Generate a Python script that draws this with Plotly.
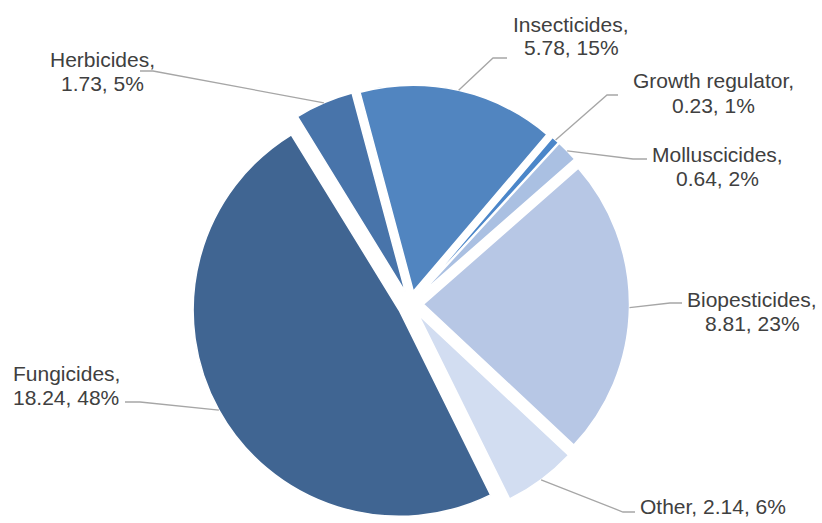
import math
import plotly.graph_objects as go

# Pesticide market segments (value, share in %)
categories = ["Insecticides", "Growth regulator", "Molluscicides",
              "Biopesticides", "Other", "Fungicides", "Herbicides"]
values = [5.78, 0.23, 0.64, 8.81, 2.14, 18.24, 1.73]
percent_labels = [15, 1, 2, 23, 6, 48, 5]
colors = ["#5185C0", "#4B86C9", "#AAC0E2", "#B7C7E5", "#D2DDF1", "#406592", "#4874AA"]

W, H = 822, 523
PULL = 0.063
ROTATION = -15          # first slice starts 15 deg left of 12 o'clock
DOMAIN_X = [0.2299, 0.7689]
DOMAIN_Y = [0.0, 0.8375]

# label layout: (text center x, first line y, elbow x, elbow y, end x) in pixels
label_layout = {
    "Insecticides":     (571, 24, 493, 58, 507),
    "Growth regulator": (713, 81, 607, 95, 618),
    "Molluscicides":    (717, 154, 633, 159, 647),
    "Biopesticides":    (752, 299, 670, 303, 682),
    "Other":            (713, 506, 623, 512, 635),
    "Fungicides":       (66, 373, 140, 402, 125),
    "Herbicides":       (102, 59, 153, 71, 140),
}
LINE_GAP = 24
TEXT_COLOR = "#404040"
LEADER_COLOR = "#A6A6A6"
FONT = "Liberation Sans, Arial, sans-serif"

fig = go.Figure(go.Pie(
    labels=categories,
    values=values,
    sort=False,
    direction="clockwise",
    rotation=ROTATION,
    pull=[PULL] * len(values),
    marker=dict(colors=colors, line=dict(color="white", width=1.5)),
    textinfo="none",
    hoverinfo="label+value+percent",
    showlegend=False,
    domain=dict(x=DOMAIN_X, y=DOMAIN_Y),
))

# pie geometry as laid out by plotly (pixels, y downward)
box_w = W * (DOMAIN_X[1] - DOMAIN_X[0])
box_h = H * (DOMAIN_Y[1] - DOMAIN_Y[0])
r = min(box_w, box_h) / 2 / (1 + PULL)
cx = W * (DOMAIN_X[0] + DOMAIN_X[1]) / 2
cy = H * (1 - DOMAIN_Y[0]) - box_h / 2


def to_paper(x, y):
    return x / W, 1 - y / H


total = sum(values)
start = ROTATION
shapes, annotations = [], []
for name, v, pct in zip(categories, values, percent_labels):
    sweep = 360 * v / total
    mid = math.radians(start + sweep / 2)
    start += sweep
    ox = cx + PULL * r * math.sin(mid)
    oy = cy - PULL * r * math.cos(mid)
    ax = ox + r * math.sin(mid)
    ay = oy - r * math.cos(mid)

    tx, ty, ex, ey, endx = label_layout[name]
    p0 = to_paper(ax, ay)
    p1 = to_paper(ex, ey)
    p2 = to_paper(endx, ey)
    shapes.append(dict(
        type="path", xref="paper", yref="paper",
        path=f"M {p0[0]},{p0[1]} L {p1[0]},{p1[1]} L {p2[0]},{p2[1]}",
        line=dict(color=LEADER_COLOR, width=1.3),
    ))

    value_text = f"{v:.2f}, {pct}%"
    if name == "Other":
        lines = [f"{name}, {value_text}"]
    else:
        lines = [f"{name},", value_text]
    for i, line in enumerate(lines):
        px, py = to_paper(tx, ty + i * LINE_GAP)
        annotations.append(dict(
            x=px, y=py, xref="paper", yref="paper",
            text=line, showarrow=False,
            xanchor="center", yanchor="middle",
            font=dict(family=FONT, size=21, color=TEXT_COLOR),
        ))

fig.update_layout(
    width=W, height=H,
    margin=dict(l=0, r=0, t=0, b=0),
    paper_bgcolor="white",
    plot_bgcolor="white",
    shapes=shapes,
    annotations=annotations,
)

fig.write_html("out.html")
